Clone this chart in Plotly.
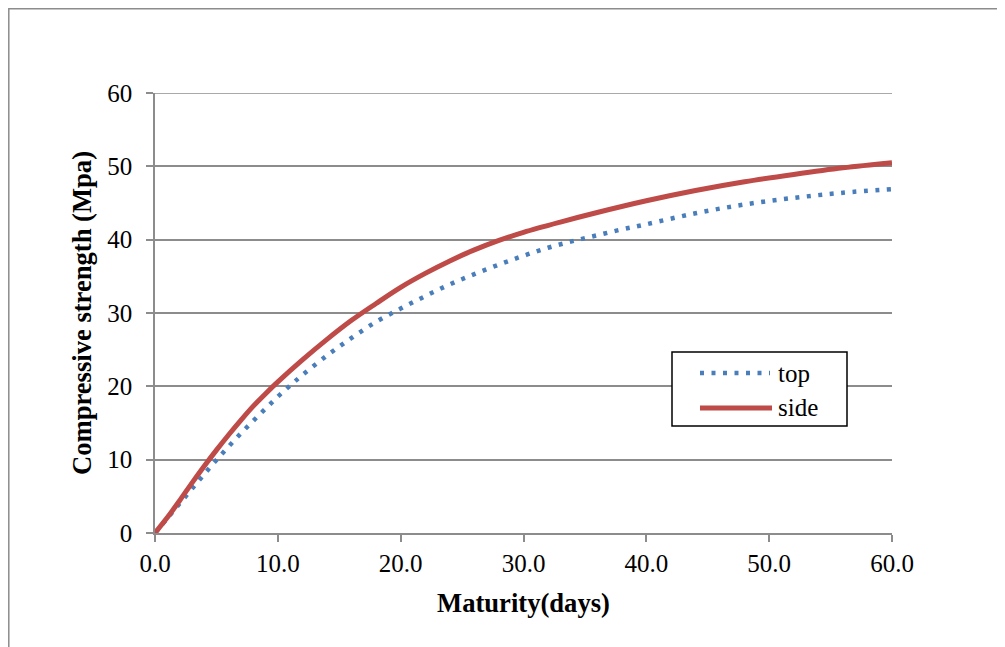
import plotly.graph_objects as go

# Data
side_x = [0, 1, 2, 3, 4, 5, 6, 7, 8, 9, 10, 12, 14, 16, 18, 20, 22, 24, 26, 28, 30, 33, 36, 40, 44, 48, 52, 56, 60]
side_y = [0, 2.1, 4.4, 6.8, 9.1, 11.3, 13.4, 15.4, 17.3, 19.0, 20.6, 23.6, 26.4, 29.0, 31.3, 33.5, 35.4,
          37.1, 38.6, 39.9, 41.0, 42.4, 43.7, 45.3, 46.7, 47.9, 48.9, 49.8, 50.5]

top_x = [0, 1, 2, 3, 4, 5, 6, 7, 8, 9, 10, 11, 12, 14, 16, 18, 20, 22, 24, 26, 28, 30, 32, 34, 36, 38, 40,
         44, 48, 52, 56, 60]
top_y = [0, 2.0, 4.0, 6.0, 8.0, 9.95, 11.8, 13.6, 15.3, 16.95, 18.6, 20.1, 21.55, 24.2, 26.6, 28.8, 30.6,
         32.3, 33.9, 35.3, 36.6, 37.8, 38.9, 39.8, 40.6, 41.4, 42.1, 43.6, 44.8, 45.7, 46.4, 46.9]

x_ticks = [0, 10, 20, 30, 40, 50, 60]
x_tick_labels = ["0.0", "10.0", "20.0", "30.0", "40.0", "50.0", "60.0"]
y_ticks = [0, 10, 20, 30, 40, 50, 60]

FONT = "Liberation Serif"
GRID = "#8c8c8c"
BLUE = "#4a7ebb"
RED = "#be4b48"

# page body has an 8px margin; plot area in the reference spans x 155..892, y 93..533
OFF = 8
L, T, PW, PH = 155 - OFF, 93 - OFF, 737, 440

fig = go.Figure()
fig.add_trace(go.Scatter(x=top_x, y=top_y, mode="lines", name="top",
                         line=dict(color=BLUE, width=4.5, dash="4px,7.5px", shape="spline")))
fig.add_trace(go.Scatter(x=side_x, y=side_y, mode="lines", name="side",
                         line=dict(color=RED, width=5, shape="spline")))

fig.update_layout(
    width=1005, height=647,
    margin=dict(l=L, r=1005 - L - PW, t=T, b=647 - T - PH),
    paper_bgcolor="white", plot_bgcolor="white",
    showlegend=False,
    font=dict(family=FONT, size=25, color="black"),
)
fig.update_xaxes(
    range=[0, 60], tickvals=x_ticks, ticktext=x_tick_labels,
    showgrid=False, zeroline=False, showline=True, linecolor=GRID, linewidth=1.5,
    ticks="outside", ticklen=7, tickcolor=GRID, tickwidth=1.5,
    tickfont=dict(family=FONT, size=25),
    title=dict(text="<b>Maturity(days)</b>", font=dict(family=FONT, size=26.6), standoff=18),
)
fig.update_yaxes(
    range=[0, 60], tickvals=y_ticks,
    showgrid=True, gridcolor=GRID, gridwidth=1.5, zeroline=False,
    showline=True, linecolor=GRID, linewidth=1.5,
    ticks="outside", ticklen=7, tickcolor=GRID, tickwidth=1.5,
    ticklabelstandoff=9,
    tickfont=dict(family=FONT, size=25),
    title=dict(text="<b>Compressive strength (Mpa)</b>", font=dict(family=FONT, size=26.6), standoff=8),
)

def px_x(p):
    return (p - 155) / float(PW)

def px_y(p):
    return (533 - p) / float(PH)

# top gridline at 60
fig.add_shape(type="line", xref="paper", yref="y", x0=0, x1=1, y0=60, y1=60,
              line=dict(color=GRID, width=1.5), layer="below")

# outer chart border
fig.add_shape(type="rect", xref="paper", yref="paper",
              x0=px_x(8.8), x1=px_x(1030), y0=px_y(670), y1=px_y(8.8),
              line=dict(color=GRID, width=1.5), fillcolor="rgba(0,0,0,0)", layer="below")

# legend box
fig.add_shape(type="rect", xref="paper", yref="paper",
              x0=px_x(672), x1=px_x(847), y0=px_y(426), y1=px_y(352),
              line=dict(color="black", width=1.5), fillcolor="white", layer="above")
fig.add_shape(type="line", xref="paper", yref="paper",
              x0=px_x(700), x1=px_x(770), y0=px_y(373), y1=px_y(373),
              line=dict(color=BLUE, width=4.5, dash="4px,7.5px"), layer="above")
fig.add_shape(type="line", xref="paper", yref="paper",
              x0=px_x(700), x1=px_x(772), y0=px_y(408), y1=px_y(408),
              line=dict(color=RED, width=5), layer="above")
fig.add_annotation(xref="paper", yref="paper", x=px_x(776), y=px_y(373), text="top",
                   showarrow=False, xanchor="left", yanchor="middle",
                   font=dict(family=FONT, size=25, color="black"))
fig.add_annotation(xref="paper", yref="paper", x=px_x(776), y=px_y(408), text="side",
                   showarrow=False, xanchor="left", yanchor="middle",
                   font=dict(family=FONT, size=25, color="black"))

fig.write_html("out.html")
